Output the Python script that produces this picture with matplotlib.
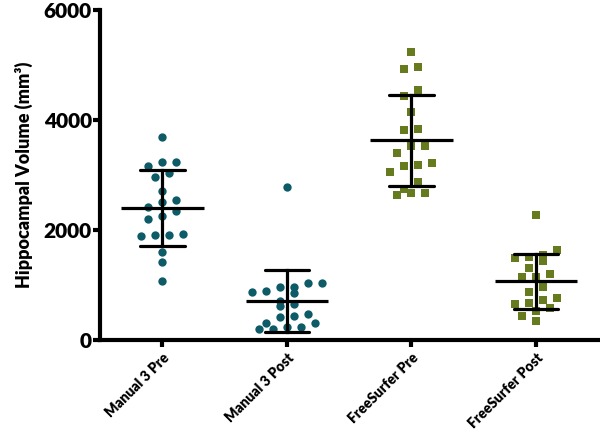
import numpy as np
import matplotlib
matplotlib.use('Agg')
import matplotlib.pyplot as plt

# Категории и значения (мм^3)
groups = ['Manual 3 Pre', 'Manual 3 Post', 'FreeSurfer Pre', 'FreeSurfer Post']

manual_pre = [3685, 3242, 3242, 3164, 3031, 2958, 2709, 2503, 2545, 2424,
              2351, 2255, 2200, 1909, 1885, 1903, 1921, 1606, 1412, 1079]
manual_post = [2776, 1030, 970, 891, 848, 879, 970, 1030, 709, 618,
               648, 442, 303, 242, 206, 206, 242, 315, 424, 467]
fs_pre = [5242, 4921, 4958, 4545, 4436, 4152, 3836, 3818, 3533, 3533,
          3406, 3212, 3170, 3188, 3061, 2879, 2667, 2630, 2667, 2745]
fs_post = [2273, 1636, 1515, 1436, 1497, 1545, 1303, 1152, 1139, 1200,
           970, 879, 770, 679, 655, 727, 588, 533, 436, 352]

data = [manual_pre, manual_post, fs_pre, fs_post]
colors = ['#0c5b67', '#0c5b67', '#667b1d', '#667b1d']
markers = ['o', 'o', 's', 's']
yticks = [0, 2000, 4000, 6000]

plt.rcParams['font.family'] = ['Lato', 'DejaVu Sans']
plt.rcParams['font.weight'] = 'heavy'


def row_offsets(ax, x0, values, row_h=9.0, step=14.0):
    # Раскладка как в GraphPad: близкие по высоте точки в один ряд, симметрично
    trans = ax.transData
    x_px0 = trans.transform((x0, 0))[0]
    ys = np.array([trans.transform((x0, v))[1] for v in values])
    order = np.argsort(-ys)
    rows = []
    for i in order:
        if rows and ys[rows[-1][0]] - ys[i] < row_h:
            rows[-1].append(i)
        else:
            rows.append([i])
    xs = np.zeros(len(values))
    for r in rows:
        n = len(r)
        r_sorted = sorted(r, key=lambda j: values[j])
        for k, j in enumerate(r_sorted):
            xs[j] = (k - (n - 1) / 2) * step
    inv = trans.inverted()
    return [inv.transform((x_px0 + c, 0))[0] for c in xs]


fig = plt.figure(figsize=(6, 4.32), dpi=100)
ax = fig.add_axes([0.167, 0.213, 0.83, 0.764])
ax.set_xlim(-0.5, 3.5)
ax.set_ylim(0, 6000)

for i, vals in enumerate(data):
    xs = row_offsets(ax, i, vals)
    ax.plot(xs, vals, linestyle='none', marker=markers[i], color=colors[i],
            markersize=6.0 if markers[i] == 'o' else 5.4, markeredgewidth=0, zorder=2)
    m = np.mean(vals)
    sd = np.std(vals, ddof=1)
    # среднее и SD
    ax.plot([i - 0.33, i + 0.33], [m, m], color='black', lw=2.3, zorder=3, solid_capstyle='butt')
    ax.plot([i, i], [m - sd, m + sd], color='black', lw=2.3, zorder=3)
    for yy in (m - sd, m + sd):
        ax.plot([i - 0.18, i + 0.18], [yy, yy], color='black', lw=2.3, zorder=3,
                solid_capstyle='round')

ax.spines['top'].set_visible(False)
ax.spines['right'].set_visible(False)
ax.spines['left'].set_linewidth(3)
ax.spines['bottom'].set_linewidth(3)
ax.spines['left'].set_bounds(0, 6000)

ax.set_yticks(yticks)
ax.set_yticklabels([str(t) for t in yticks], fontsize=15, fontweight='heavy')
ax.set_xticks(range(len(groups)))
ax.set_xticklabels(groups, rotation=45, ha='right', rotation_mode='anchor',
                   fontsize=10, fontweight='heavy')
ax.tick_params(axis='y', length=5, width=3, pad=1)
ax.tick_params(axis='x', length=5, width=3, pad=3)
ax.set_ylabel('Hippocampal Volume (mm³)', fontsize=13, fontweight='heavy', labelpad=8)

fig.savefig('out.png', dpi=100)
